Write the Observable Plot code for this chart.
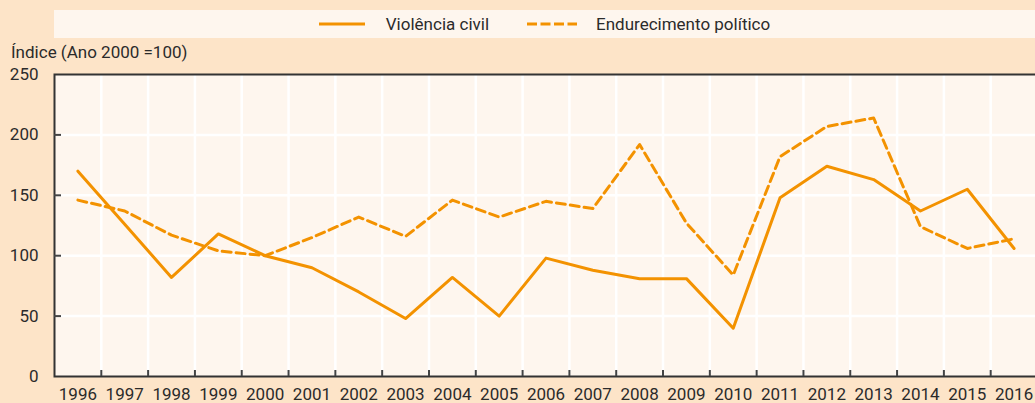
<!DOCTYPE html>
<html>
<head>
<meta charset="utf-8">
<script src="https://cdn.jsdelivr.net/npm/d3@7"></script>
<script src="https://cdn.jsdelivr.net/npm/@observablehq/plot@0.6"></script>
<style>
  html, body { margin: 0; padding: 0; }
  body { width: 1035px; height: 403px; background: #FDE4C8; position: relative; overflow: hidden;
         font-family: Roboto, "Noto Sans", sans-serif; color: #2b2b2b; }
  #legend { position: absolute; left: 54px; top: 10px; width: 981px; height: 28px; background: #FEF6EE;
            display: flex; align-items: center; justify-content: center; font-size: 17px; }
  #legend .item { display: flex; align-items: center; }
  #legend svg { display: block; }
  #title { position: absolute; left: 11px; top: 41px; font-size: 17px; line-height: 22px; }
  #chart { position: absolute; left: 0; top: 62px; }
</style>
</head>
<body>
<div id="legend"></div>
<div id="title">Índice (Ano 2000 =100)</div>
<div id="chart"></div>
<script>
const years = [1996, 1997, 1998, 1999, 2000, 2001, 2002, 2003, 2004, 2005, 2006, 2007, 2008, 2009, 2010, 2011, 2012, 2013, 2014, 2015, 2016];
const violencia = [170, 126, 82, 118, 100, 90, 70, 48, 82, 50, 98, 88, 81, 81, 40, 148, 174, 163, 137, 155, 106];
const endurecimento = [146, 137, 117, 104, 100, 115, 132, 116, 146, 132, 145, 139, 192, 127, 84, 182, 207, 214, 124, 106, 114];
const seriesNames = ["Violência civil", "Endurecimento político"];
const yTicks = [0, 50, 100, 150, 200, 250];
const yGrid = [50, 100, 150, 200];

const orange = "#F39200";
const dash = "9,5";

const data = years.map((y, i) => ({year: y, v: violencia[i], e: endurecimento[i]}));
const bounds = years.slice(0, -1).map(y => y + 0.5);

// Legend
const legend = document.getElementById("legend");
function legendItem(name, dashed, sampleW, gapAfter, marginLeft) {
  const item = document.createElement("div");
  item.className = "item";
  item.style.marginLeft = marginLeft + "px";
  const ns = "http://www.w3.org/2000/svg";
  const svg = document.createElementNS(ns, "svg");
  svg.setAttribute("width", sampleW);
  svg.setAttribute("height", 8);
  const line = document.createElementNS(ns, "line");
  line.setAttribute("x1", 0); line.setAttribute("x2", sampleW);
  line.setAttribute("y1", 4); line.setAttribute("y2", 4);
  line.setAttribute("stroke", orange);
  line.setAttribute("stroke-width", 3);
  if (dashed) line.setAttribute("stroke-dasharray", "10,3.5");
  svg.appendChild(line);
  const span = document.createElement("span");
  span.textContent = name;
  span.style.marginLeft = gapAfter + "px";
  item.appendChild(svg);
  item.appendChild(span);
  legend.appendChild(item);
}
legendItem(seriesNames[0], false, 46, 21, 0);
legendItem(seriesNames[1], true, 50, 19, 38);

const chart = Plot.plot({
  width: 1035,
  height: 341,
  marginTop: 12,
  marginBottom: 27,
  marginLeft: 54,
  marginRight: -2,
  style: {fontFamily: "Roboto, 'Noto Sans', sans-serif", fontSize: "17px", color: "#2b2b2b", background: "transparent", overflow: "visible"},
  x: {domain: [1995.5, 2016.5], label: null},
  y: {domain: [0, 250], label: null},
  marks: [
    Plot.frame({fill: "#FEF6EE", stroke: "none"}),
    Plot.gridX(bounds, {stroke: "white", strokeOpacity: 1, strokeWidth: 2.5}),
    Plot.gridY(yGrid, {stroke: "white", strokeOpacity: 1, strokeWidth: 2.5}),
    Plot.line(data, {x: "year", y: "e", stroke: orange, strokeWidth: 3, strokeDasharray: dash}),
    Plot.line(data, {x: "year", y: "v", stroke: orange, strokeWidth: 3}),
    Plot.frame({stroke: "#333", strokeWidth: 2}),
    Plot.axisY(yTicks, {tickSize: 0, tickPadding: 16, fontSize: 17, tickFormat: d => String(d)}),
    Plot.axisY(yTicks.slice(1, -1), {tickSize: -7, tickFormat: () => "", stroke: "#444", strokeWidth: 2}),
    Plot.axisX(bounds, {tickSize: -6, tickFormat: () => "", stroke: "#444", strokeWidth: 2}),
    Plot.axisX(years, {tickSize: 0, tickPadding: 11, fontSize: 17, tickFormat: d => String(d)})
  ]
});
document.getElementById("chart").appendChild(chart);
</script>
</body>
</html>
